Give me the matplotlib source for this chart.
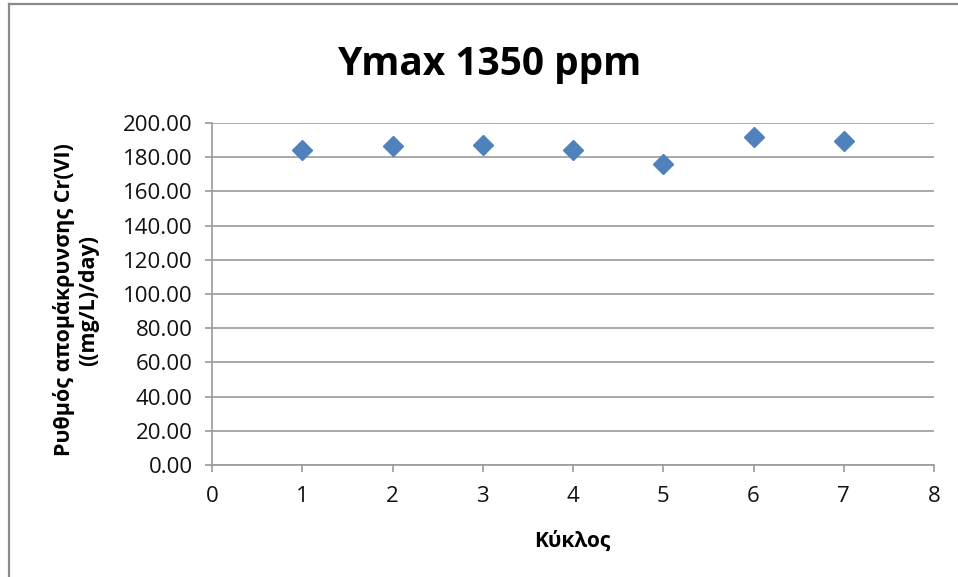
import matplotlib.pyplot as plt
from matplotlib.lines import Line2D

# data
cycles = [1, 2, 3, 4, 5, 6, 7]
rates = [184.1, 186.4, 187.0, 184.1, 175.8, 191.6, 189.2]
y_ticks = list(range(0, 201, 20))
x_ticks = list(range(0, 9))

plt.rcParams['font.family'] = ['Open Sans', 'DejaVu Sans']

W, H = 958, 577
fig = plt.figure(figsize=(W / 100, H / 100), dpi=100)
# plot area: x 212..934 px, y 123..465 px
ax = fig.add_axes([212 / W, 1 - 465 / H, (934 - 212) / W, (465 - 123) / H])

ax.plot(cycles, rates, linestyle='none', marker='D', markersize=10,
        color='#4F81BD', markeredgecolor='#4F81BD')

ax.set_xlim(0, 8)
ax.set_ylim(0, 200)
ax.set_xticks(x_ticks)
ax.set_yticks(y_ticks)
ax.set_yticklabels(["{:.2f}".format(v) for v in y_ticks])
ax.grid(axis='y', color='#9a9a9a', linewidth=1.2)
ax.set_axisbelow(True)

for s in ['top', 'right']:
    ax.spines[s].set_visible(False)
for s in ['left', 'bottom']:
    ax.spines[s].set_color('#9a9a9a')
    ax.spines[s].set_linewidth(1.2)
ax.tick_params(axis='both', colors='#9a9a9a', labelcolor='#111111',
               labelsize=16, length=5, width=1.2, direction='out')
ax.tick_params(axis='y', pad=9)
ax.tick_params(axis='x', pad=10)

fig.text(490 / W, 1 - 65 / H, "Ymax 1350 ppm", fontsize=28, fontweight='bold',
         ha='center', va='center')
fig.text(572 / W, 1 - 541 / H, "Κύκλος", fontsize=15, fontweight='bold',
         ha='center', va='center')
fig.text(76 / W, 1 - 300 / H, "Ρυθμός απομάκρυνσης Cr(VI)\n((mg/L)/day)",
         fontsize=15.5, fontweight='bold', rotation=90, ha='center', va='center',
         multialignment='center', linespacing=1.15)

# chart border (only top and left visible in the crop)
fig.lines.append(Line2D([8.5 / W, 1], [1 - 3.5 / H, 1 - 3.5 / H], transform=fig.transFigure,
                        color='#8a8a8a', linewidth=1.6))
fig.lines.append(Line2D([8.5 / W, 8.5 / W], [0, 1 - 3.5 / H], transform=fig.transFigure,
                        color='#8a8a8a', linewidth=1.6))

fig.savefig("out.png", dpi=100)
